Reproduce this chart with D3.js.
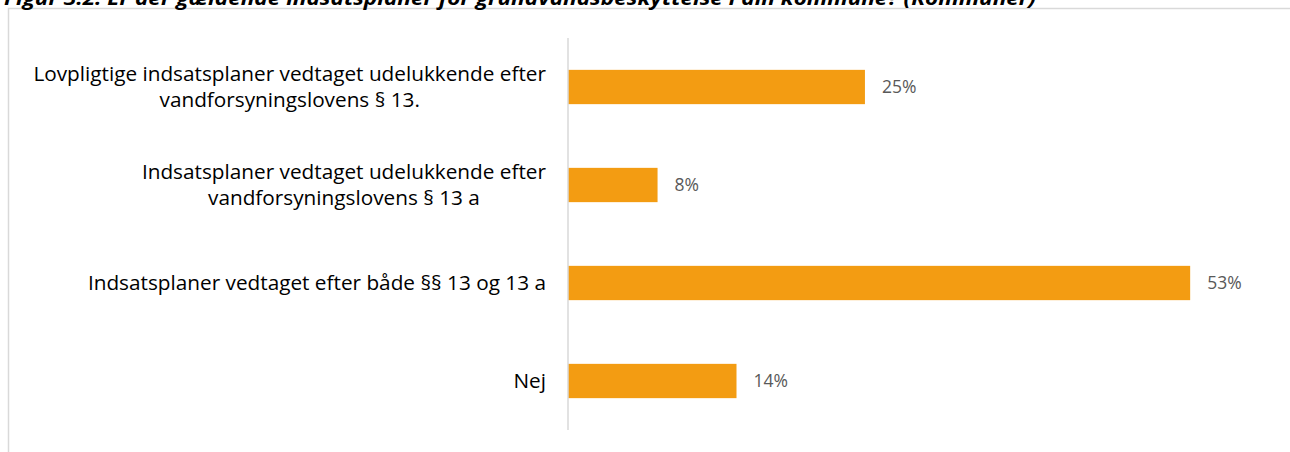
<!DOCTYPE html>
<html>
<head>
<meta charset="utf-8">
<script src="https://cdn.jsdelivr.net/npm/d3@7"></script>
<style>
  body { margin: 0; background: #fff; }
  svg { display: block; }
</style>
</head>
<body>
<div id="chart"></div>
<script>
// Data
var categories = [
    ["Lovpligtige indsatsplaner vedtaget udelukkende efter", "vandforsyningslovens § 13."],
    ["Indsatsplaner vedtaget udelukkende efter", "vandforsyningslovens § 13 a"],
    ["Indsatsplaner vedtaget efter både §§ 13 og 13 a"],
    ["Nej"]
]
var values = [0.252, 0.076, 0.528, 0.143]
var title = "Figur 3.2. Er der gældende indsatsplaner for grundvandsbeskyttelse i din kommune? (Kommuner)"

var width = 1290
var height = 452
var axisX = 568
var labelRight = 546
var longestLabel = 513   // width of the widest label line in the picture

const svg = d3.select("#chart")
    .append("svg")
    .attr("width", width)
    .attr("height", height)

// frame (cut off at the right and bottom)
svg.append("rect")
    .attr("x", 8.5)
    .attr("y", 8.5)
    .attr("width", width + 20)
    .attr("height", height + 20)
    .attr("fill", "none")
    .attr("stroke", "#d9d9d9")
    .attr("stroke-width", 1.5)

// title, only the lower part shows
svg.append("text")
    .attr("x", 4)
    .attr("y", 5)
    .attr("textLength", 1032)
    .attr("lengthAdjust", "spacingAndGlyphs")
    .style("font-family", "'Open Sans', sans-serif")
    .style("font-weight", "bold")
    .style("font-style", "italic")
    .style("font-size", "19px")
    .attr("fill", "#000")
    .text(title)

var x = d3.scaleLinear()
    .domain([0, 0.6])
    .range([axisX, axisX + 707])

var y = d3.scaleBand()
    .domain(d3.range(categories.length))
    .range([38, 430])
    .paddingInner(0.65)
    .paddingOuter(0.325)

// bars
svg.selectAll(".bar")
    .data(values)
    .enter()
    .append("rect")
    .attr("class", "bar")
    .attr("x", x(0))
    .attr("y", function(d, i) { return y(i) })
    .attr("width", function(d) { return x(d) - x(0) })
    .attr("height", y.bandwidth())
    .attr("fill", "#f39c12")

// value labels
svg.selectAll(".val")
    .data(values)
    .enter()
    .append("text")
    .attr("class", "val")
    .attr("x", function(d) { return x(d) + 17 })
    .attr("y", function(d, i) { return y(i) + y.bandwidth() / 2 })
    .attr("dy", "0.36em")
    .style("font-family", "'Open Sans', sans-serif")
    .style("font-size", "17.5px")
    .attr("fill", "#595959")
    .text(function(d) { return d3.format(".0%")(d) })

// vertical axis line
svg.append("line")
    .attr("x1", axisX)
    .attr("x2", axisX)
    .attr("y1", 38)
    .attr("y2", 430)
    .attr("stroke", "#d9d9d9")
    .attr("stroke-width", 1.5)

// category labels: lines centred on each other, block right-aligned
var lineH = 26
var labelGroups = categories.map(function(lines, i) {
    var cy = y(i) + y.bandwidth() / 2
    return lines.map(function(s, j) {
        return svg.append("text")
            .attr("y", cy + (j - (lines.length - 1) / 2) * lineH)
            .attr("dy", "0.36em")
            .attr("text-anchor", "middle")
            .style("font-family", "'Open Sans', sans-serif")
            .style("font-size", "18px")
            .attr("fill", "#000")
            .text(s)
    })
})

// size the font so the widest line matches the picture
var widest = d3.max(labelGroups, function(ts) {
    return d3.max(ts, function(t) { return t.node().getComputedTextLength() })
})
var fs = 18 * longestLabel / widest
labelGroups.forEach(function(ts) {
    ts.forEach(function(t) { t.style("font-size", fs + "px") })
    var maxW = d3.max(ts, function(t) { return t.node().getComputedTextLength() })
    ts.forEach(function(t) { t.attr("x", labelRight - maxW / 2) })
})
</script>
</body>
</html>
